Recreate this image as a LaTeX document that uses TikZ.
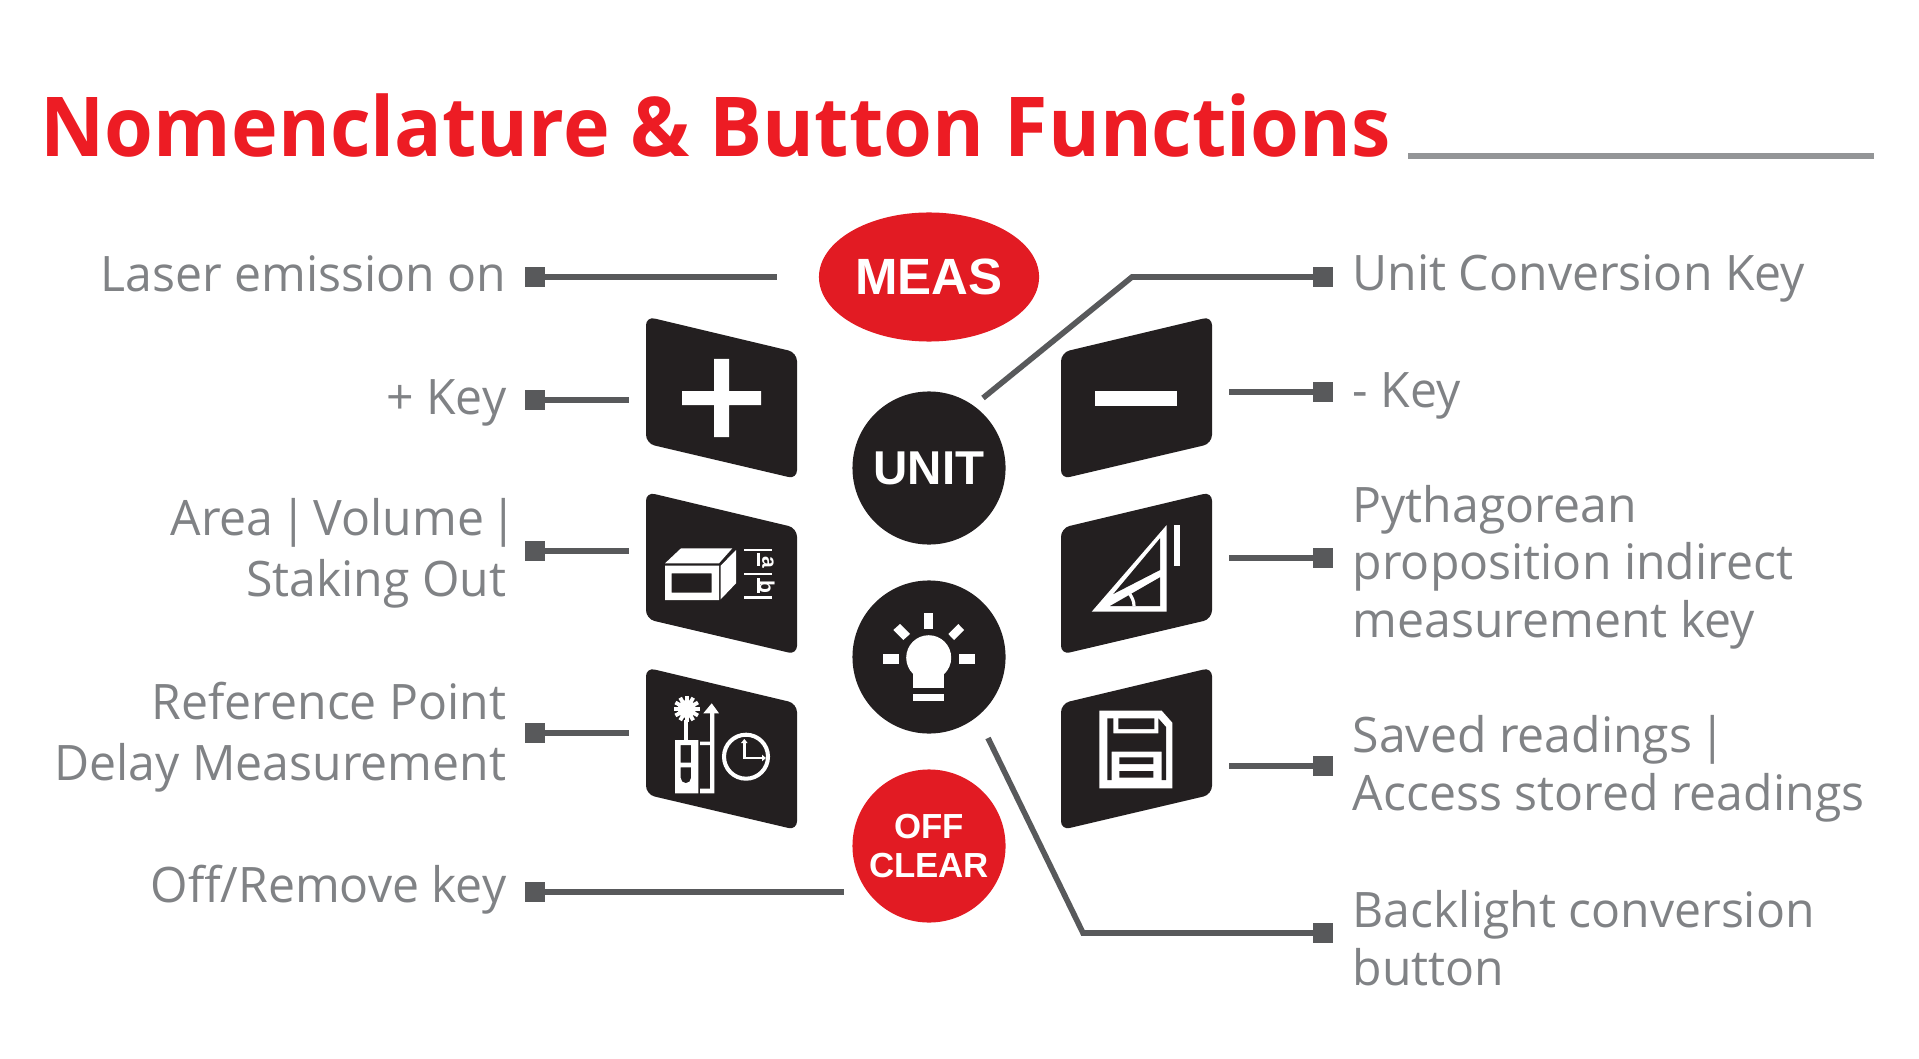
\documentclass[tikz,border=0pt]{standalone}
\usepackage{fontspec}
\setmainfont[FakeStretch=0.985]{Open Sans}
\newfontfamily\ttlfont[FakeStretch=0.956]{Open Sans}
\newfontfamily\keyfont{Liberation Sans}
\usetikzlibrary{positioning,calc,shapes.geometric}
\definecolor{kred}{HTML}{E21B23}
\definecolor{ktitle}{HTML}{ED1C24}
\definecolor{kdark}{HTML}{231F20}
\definecolor{kgray}{HTML}{808285}
\definecolor{kline}{HTML}{58595B}
\newcommand{\kbar}{\kern-1.6pt|\kern-1.6pt}
\tikzset{
  lbl/.style={font=\fontsize{13.9}{16.4}\selectfont,text=kgray,inner sep=0pt},
  lbll/.style={lbl,font=\fontsize{13.9}{17.4}\selectfont,anchor=east,align=right},
  lblr/.style={lbl,anchor=west,align=left},
  tick/.style={fill=kline,minimum size=0.2cm,inner sep=0pt,outer sep=0pt},
  lead/.style={draw=kline,line width=1.6pt},
  rnd/.style={circle,fill=kdark,minimum size=1.53cm,inner sep=0pt,text=white,align=center,font=\keyfont\bfseries\fontsize{13.5}{14}\selectfont},
  kl/.style={fill=kdark,rounded corners=2.5pt},
  ic/.style={draw=white,line width=1pt,fill=none,line join=miter},
  abc/.style={rotate=-90,text=white,inner sep=0pt,font=\keyfont\bfseries\fontsize{6}{6}\selectfont},
}
\begin{document}
\begin{tikzpicture}[x=0.01cm,y=-0.01cm]
  \useasboundingbox (0,0) rectangle (1919,1058);
  % title
  \node[anchor=base west,inner sep=0pt,text=ktitle,font=\ttlfont\bfseries\fontsize{23.5}{28}\selectfont] (ttl) at (40,157) {Nomenclature \& Button Functions};
  \coordinate (ra) at (1408,156);
  \coordinate (rb) at (1874,156);
  \draw[kgray!85,line width=1.7pt] (ra) -- (rb);
  % round keys
  \node[fill=kred,ellipse,minimum width=2.2cm,minimum height=1.29cm,inner sep=0pt,text=white,font=\keyfont\bfseries\fontsize{14.5}{15}\selectfont] (meas) at (929,277) {MEAS};
  \node[rnd] (unit) at (929,468) {UNIT};
  \node[rnd] (lamp) at (929,657) {};
  \node[rnd,fill=kred,font=\keyfont\bfseries\fontsize{9.9}{11.2}\selectfont] (off) at (929,846) {OFF\\CLEAR};
  % left keys
  \foreach \y in {0,175.5,351} {
    \fill[kl,shift={(0,\y)}] (646,316.5) -- (797,352.5) -- (797,479) -- (646,443.5) -- cycle;
  }
  % right keys
  \foreach \y in {0,175.5,351} {
    \fill[kl,shift={(0,\y)}] (1061,352.5) -- (1212,316.5) -- (1212,443.5) -- (1061,479) -- cycle;
  }
  % plus, minus
  \fill[white] (682,391) rectangle (761,405) (714,359) rectangle (729,437);
  \fill[white] (1095,391) rectangle (1177,406);
  % area icon
  \fill[white] (665,563.3) -- (681,548.3) -- (732.3,548.3) -- (719,563.3) -- cycle;
  \fill[white] (720.7,565.7) -- (736,550) -- (736,583.3) -- (720.7,599.3) -- cycle;
  \fill[white,even odd rule] (665,565.7) rectangle (719,600) (671.7,573.3) rectangle (711.7,592.7);
  \draw[ic,line width=.75pt] (744.3,550) -- (772.3,550) (744.3,574) -- (772.3,574) (744.3,597.7) -- (772.3,597.7);
  \draw[ic,line width=.9pt] (758.3,553) -- (758.3,566) (758.3,578) -- (758.3,593);
  \node[abc] (aa) at (768,562) {a};
  \node[abc] (bb) at (767,587) {b};
  % reference point icon
  \foreach \a in {0,30,...,330} \draw[white,line width=1.1pt] (686.7,709) -- ++(\a:13);
  \fill[white] (686.7,709) circle (9);
  \fill[white] (684,720) rectangle (688.3,741);
  \fill[white,even odd rule] (675,740) rectangle (698.3,793.3) (680.7,745) rectangle (691,762.7) (680.7,767.3) -- (691,767.3) -- (691,778) arc (0:180:5.15) -- cycle;
  \fill[white] (710,710) rectangle (714.3,793.3) (700,788.7) rectangle (714,793.3) (700,741.7) rectangle (710,745);
  \fill[white] (703.3,713.3) -- (719,713.3) -- (711.7,703.3) -- cycle;
  \draw[ic,line width=1.15pt] (746,756.7) circle (22);
  \draw[ic,line width=.8pt] (744.3,741) -- (744.3,758) -- (763,758);
  \fill[white] (741,743) -- (747.6,743) -- (744.3,739) -- cycle (762,754.7) -- (762,761.3) -- (766,758) -- cycle;
  % triangle icon
  \fill[white] (1091.7,611.7) -- (1166.7,525) -- (1166.7,611.7) -- cycle;
  \fill[kdark] (1160,538.3) -- (1160,570) -- (1113.3,594) -- cycle;
  \fill[kdark] (1160,577.3) -- (1160,606) -- (1110,606) -- cycle;
  \draw[ic,line width=.9pt] (1128.3,592) .. controls (1132,597) and (1134,601) .. (1134,606);
  \fill[white] (1174.3,525) rectangle (1180,565.7);
  % floppy icon
  \fill[white] (1099.3,710.7) -- (1161.7,710.7) -- (1172.3,722.7) -- (1172.3,788.3) -- (1099.3,788.3) -- cycle;
  \fill[kdark] (1107.3,718.3) -- (1113.3,718.3) -- (1113.3,733.3) -- (1158.3,733.3) -- (1158.3,718.3) -- (1166,727) -- (1166,780) -- (1161.7,780) -- (1161.7,751.7) -- (1111.7,751.7) -- (1111.7,780) -- (1107.3,780) -- cycle;
  \fill[kdark] (1118.3,718.3) rectangle (1154.3,729) (1119.3,757.3) rectangle (1153.3,764) (1119.3,771) rectangle (1153.3,777.7);
  % lamp icon
  \fill[white] (924.3,613) rectangle (933.3,628.7);
  \fill[white] (882.7,654) rectangle (898.7,663.7);
  \fill[white] (959.3,654) rectangle (974.7,663.7);
  \fill[white] (893.3,630) -- (900,624) -- (910,634) -- (903.3,640) -- cycle;
  \fill[white] (948.3,634) -- (958.3,624) -- (964,630) -- (954,640) -- cycle;
  \fill[white] (913.3,694) rectangle (944,700.7);
  \fill[white] (928.7,657.7) circle (22.5);
  \fill[white] (913.3,670) rectangle (944,687.7);
  % labels, ticks, leads: left
  \node[lbll] (t1) at (507,274) {Laser emission on};
  \node[lbll] (t2) at (507,403) {+ Key};
  \node[lbll] (t3) at (507,553) {Area \kbar{} Volume \kbar{}\kern-1.6pt\\Staking Out};
  \node[lbll] (t4) at (507,737) {Reference Point\\Delay Measurement};
  \node[lbll] (t5) at (507,890) {Off/Remove key};
  \node[tick] (p1) at (535,277) {};
  \node[tick] (p2) at (535,400) {};
  \node[tick] (p3) at (535,551) {};
  \node[tick] (p4) at (535,733) {};
  \node[tick] (p5) at (535,892) {};
  \coordinate (e1) at (777,277);
  \coordinate (e2) at (629,400);
  \coordinate (e3) at (629,551);
  \coordinate (e4) at (629,733);
  \coordinate (e5) at (844,892);
  \foreach \i in {1,...,5} \draw[lead] (p\i) -- (e\i);
  % labels, ticks, leads: right
  \node[lblr] (r1) at (1352,278) {Unit Conversion Key};
  \node[lblr] (r2) at (1352,396) {- Key};
  \node[lblr] (r3) at (1352,567) {Pythagorean\\proposition indirect\\measurement key};
  \node[lblr] (r4) at (1352,769) {Saved readings \kbar{}\\Access stored readings};
  \node[lblr] (r5) at (1352,938) {Backlight conversion\\button};
  \node[tick] (q1) at (1323,277) {};
  \node[tick] (q2) at (1323,392) {};
  \node[tick] (q3) at (1323,558) {};
  \node[tick] (q4) at (1323,766) {};
  \node[tick] (q5) at (1323,933) {};
  \coordinate (f2) at (1229,392);
  \coordinate (f3) at (1229,558);
  \coordinate (f4) at (1229,766);
  \coordinate (f1) at (983,398);
  \coordinate (g1) at (1132,277);
  \coordinate (f5) at (988,738);
  \coordinate (g5) at (1083,933);
  \draw[lead] (q2) -- (f2);
  \draw[lead] (q3) -- (f3);
  \draw[lead] (q4) -- (f4);
  \draw[lead] (q1) -- (g1) -- (f1);
  \draw[lead] (q5) -- (g5) -- (f5);
\end{tikzpicture}
\end{document}
